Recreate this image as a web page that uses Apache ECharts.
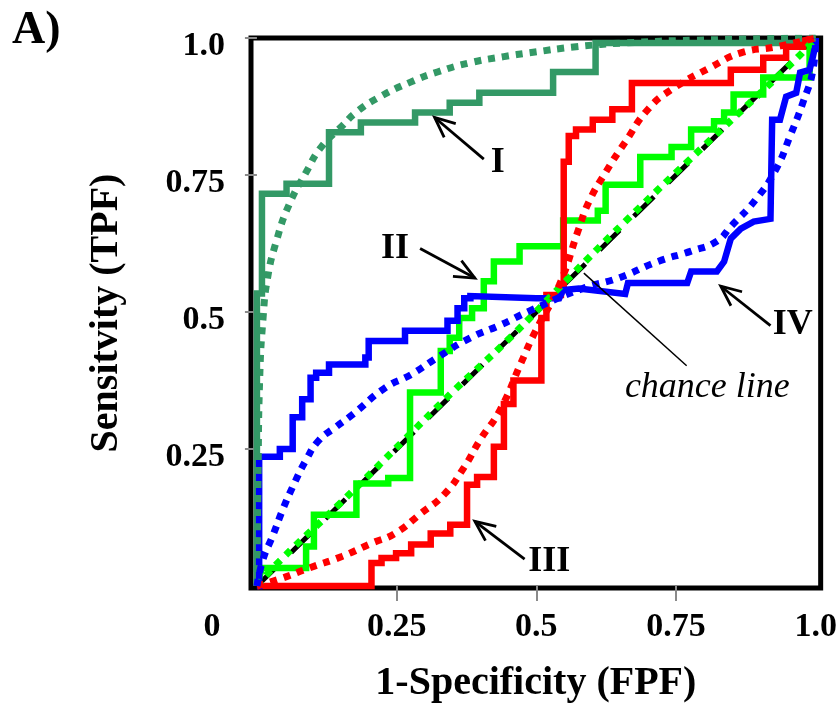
<!DOCTYPE html>
<html>
<head>
<meta charset="utf-8">
<script src="https://cdn.jsdelivr.net/npm/echarts@6/dist/echarts.min.js"></script>
<style>
  html, body { margin: 0; padding: 0; background: #fff; }
  #chart { width: 840px; height: 709px; }
</style>
</head>
<body>
<div id="chart"></div>
<script>
// Tick values and their printed labels
const xTickValues = [0, 0.25, 0.5, 0.75, 1.0];
const xTickLabels = ['0', '0.25', '0.5', '0.75', '1.0'];
const yTickValues = [0.25, 0.5, 0.75, 1.0];
const yTickLabels = ['0.25', '0.5', '0.75', '1.0'];

// Empirical ROC curves (staircase vertices): [FPF, TPF]
const empiricalI = [[0,0],[0,0.534],[0.009,0.534],[0.009,0.716],[0.053,0.716],[0.053,0.734],[0.129,0.734],[0.129,0.828],[0.186,0.828],[0.186,0.846],[0.283,0.846],[0.283,0.864],[0.345,0.864],[0.345,0.882],[0.398,0.882],[0.398,0.900],[0.530,0.900],[0.530,0.938],[0.606,0.938],[0.606,0.991],[1,0.991]];
const empiricalII = [[0,0],[0.009,0.033],[0.088,0.033],[0.088,0.072],[0.102,0.072],[0.102,0.130],[0.178,0.130],[0.178,0.187],[0.235,0.187],[0.235,0.197],[0.274,0.197],[0.274,0.353],[0.329,0.353],[0.329,0.429],[0.345,0.429],[0.345,0.453],[0.362,0.453],[0.362,0.489],[0.385,0.489],[0.385,0.507],[0.406,0.507],[0.406,0.556],[0.424,0.556],[0.424,0.592],[0.470,0.592],[0.470,0.620],[0.548,0.620],[0.548,0.667],[0.610,0.667],[0.610,0.685],[0.624,0.685],[0.624,0.732],[0.686,0.732],[0.686,0.783],[0.742,0.783],[0.742,0.801],[0.777,0.801],[0.777,0.833],[0.818,0.833],[0.818,0.848],[0.836,0.848],[0.836,0.864],[0.853,0.864],[0.853,0.897],[0.906,0.897],[0.906,0.928],[0.989,0.928],[0.989,0.984],[1,1]];
const empiricalIII = [[0,0],[0.205,0],[0.205,0.042],[0.223,0.042],[0.223,0.051],[0.249,0.051],[0.249,0.060],[0.276,0.060],[0.276,0.076],[0.311,0.076],[0.311,0.096],[0.346,0.096],[0.346,0.112],[0.376,0.112],[0.376,0.185],[0.394,0.185],[0.394,0.199],[0.424,0.199],[0.424,0.254],[0.442,0.254],[0.442,0.332],[0.459,0.332],[0.459,0.375],[0.509,0.375],[0.509,0.489],[0.518,0.489],[0.518,0.531],[0.544,0.531],[0.544,0.540],[0.549,0.540],[0.549,0.774],[0.558,0.774],[0.558,0.821],[0.571,0.821],[0.571,0.833],[0.601,0.833],[0.601,0.851],[0.636,0.851],[0.636,0.870],[0.671,0.870],[0.671,0.918],[0.848,0.918],[0.848,0.942],[0.906,0.942],[0.906,0.964],[0.947,0.964],[0.947,0.984],[0.977,0.984],[0.977,0.995],[1,1]];
const empiricalIV = [[0,0],[0.004,0],[0.004,0.236],[0.041,0.236],[0.041,0.250],[0.064,0.250],[0.064,0.308],[0.081,0.308],[0.081,0.341],[0.096,0.341],[0.096,0.380],[0.106,0.380],[0.106,0.389],[0.129,0.389],[0.129,0.404],[0.194,0.404],[0.194,0.417],[0.200,0.417],[0.200,0.447],[0.265,0.447],[0.265,0.466],[0.341,0.466],[0.341,0.484],[0.359,0.484],[0.359,0.507],[0.371,0.507],[0.371,0.525],[0.382,0.525],[0.382,0.529],[0.500,0.525],[0.541,0.525],[0.548,0.540],[0.576,0.543],[0.659,0.533],[0.664,0.553],[0.770,0.553],[0.777,0.574],[0.823,0.574],[0.836,0.592],[0.848,0.634],[0.866,0.652],[0.889,0.665],[0.919,0.670],[0.922,0.851],[0.936,0.851],[0.947,0.893],[0.965,0.900],[0.972,0.937],[0.989,0.942],[0.995,0.966],[1,0.99],[1,1]];

// Fitted (smooth) ROC curves: [FPF, TPF]
const fittedI = [[0,0],[0.002,0.199],[0.005,0.380],[0.011,0.489],[0.019,0.562],[0.035,0.630],[0.058,0.697],[0.088,0.755],[0.115,0.801],[0.152,0.839],[0.177,0.864],[0.217,0.891],[0.276,0.920],[0.323,0.938],[0.382,0.955],[0.442,0.966],[0.488,0.973],[0.571,0.984],[0.659,0.991],[0.783,0.996],[1,1]];
const fittedII = [[0,0],[0.044,0.049],[0.147,0.149],[0.265,0.268],[0.353,0.357],[0.452,0.452],[0.558,0.562],[0.659,0.665],[0.800,0.803],[0.965,0.962],[1,1]];
const fittedIII = [[0,0],[0.044,0.014],[0.094,0.033],[0.152,0.054],[0.205,0.078],[0.247,0.096],[0.293,0.132],[0.336,0.168],[0.371,0.217],[0.399,0.266],[0.435,0.321],[0.473,0.408],[0.495,0.458],[0.541,0.549],[0.576,0.652],[0.594,0.701],[0.624,0.755],[0.659,0.810],[0.700,0.870],[0.742,0.906],[0.813,0.947],[0.866,0.973],[0.929,0.984],[1,1]];
const fittedIV = [[0,0],[0.011,0.049],[0.028,0.091],[0.046,0.139],[0.064,0.181],[0.088,0.230],[0.111,0.266],[0.141,0.290],[0.170,0.312],[0.230,0.362],[0.276,0.386],[0.323,0.417],[0.382,0.453],[0.435,0.476],[0.488,0.502],[0.583,0.543],[0.647,0.562],[0.717,0.592],[0.777,0.611],[0.823,0.629],[0.848,0.656],[0.894,0.707],[0.929,0.761],[0.954,0.821],[0.977,0.882],[0.995,0.942],[1,1]];

const chanceLine = [[0,0],[1,1]];

// Curve labels with their pointer arrows, in data units
const curveNotes = [
  { text: 'I',   at: [0.431, 0.772], from: [0.406, 0.779], to: [0.318, 0.855] },
  { text: 'II',  at: [0.247, 0.616], from: [0.292, 0.616], to: [0.390, 0.562] },
  { text: 'III', at: [0.523, 0.045], from: [0.479, 0.049], to: [0.390, 0.118] },
  { text: 'IV',  at: [0.959, 0.476], from: [0.919, 0.475], to: [0.830, 0.547] }
];
const chanceNote = { text: 'chance line', at: [0.806, 0.363], from: [0.769, 0.402], to: [0.585, 0.571] };

const SERIF = '"Liberation Serif", "Times New Roman", Times, serif';
const COLORS = { I: '#339966', II: '#00ff00', III: '#ff0000', IV: '#0000ff' };
const tickFont = { fontFamily: SERIF, fontWeight: 'bold', fontSize: 34, color: '#000' };

function stepped(data, color) {
  return {
    type: 'line', data, symbol: 'none', silent: true,
    lineStyle: { color, width: 6.5, join: 'miter', cap: 'butt' }
  };
}
function fitted(data, color) {
  return {
    type: 'line', data, symbol: 'none', smooth: true, silent: true,
    lineStyle: { color, width: 7, type: [7, 7], cap: 'butt' }
  };
}

const chart = echarts.init(document.getElementById('chart'), null, { renderer: 'canvas' });

chart.setOption({
  animation: false,
  backgroundColor: '#fff',
  grid: {
    left: 251, top: 38, width: 577, height: 554,
    show: true, borderColor: '#000', borderWidth: 5, backgroundColor: 'transparent'
  },
  xAxis: {
    type: 'value', min: -0.0106, max: 1.0088,
    axisLine: { show: false },
    splitLine: { show: false },
    axisTick: {
      show: true, customValues: [0.25, 0.5, 0.75], length: 15,
      lineStyle: { color: '#8a8a8a', width: 2 }
    },
    axisLabel: Object.assign({
      customValues: xTickValues,
      formatter: v => {
        const s = xTickLabels[xTickValues.indexOf(v)];
        return v === 0 ? '{z|' + s + '}' : s;
      },
      rich: { z: Object.assign({ padding: [0, 90, 0, 0] }, tickFont) },
      margin: 22
    }, tickFont),
    name: '1-Specificity (FPF)', nameLocation: 'middle', nameGap: 76,
    nameTextStyle: { fontFamily: SERIF, fontWeight: 'bold', fontSize: 40, color: '#000' }
  },
  yAxis: {
    type: 'value', min: -0.0036, max: 1.0,
    axisLine: { show: false },
    splitLine: { show: false },
    axisTick: {
      show: true, customValues: yTickValues, length: 12,
      lineStyle: { color: '#8a8a8a', width: 2 }
    },
    axisLabel: Object.assign({
      customValues: yTickValues,
      formatter: v => '{t|' + yTickLabels[yTickValues.indexOf(v)] + '}',
      rich: { t: Object.assign({ padding: [16, 0, 0, 0] }, tickFont) },
      margin: 26
    }, tickFont),
    name: 'Sensitvity (TPF)', nameLocation: 'middle', nameGap: 124, nameRotate: 90,
    nameTextStyle: { fontFamily: SERIF, fontWeight: 'bold', fontSize: 40, color: '#000' }
  },
  series: [
    {
      type: 'line', data: chanceLine, symbol: 'none', silent: true,
      lineStyle: { color: '#000', width: 5, type: [28, 20], cap: 'butt' }
    },
    stepped(empiricalI, COLORS.I),
    stepped(empiricalII, COLORS.II),
    stepped(empiricalIII, COLORS.III),
    stepped(empiricalIV, COLORS.IV),
    fitted(fittedI, COLORS.I),
    fitted(fittedII, COLORS.II),
    fitted(fittedIII, COLORS.III),
    fitted(fittedIV, COLORS.IV)
  ]
});

// Pointer arrows and curve labels, placed through the grid's coordinate system
const px = p => chart.convertToPixel({ gridIndex: 0 }, p);

function arrow(from, to, withHead, width) {
  const a = px(from), b = px(to);
  const items = [{
    type: 'polyline', silent: true, z: 100,
    shape: { points: [a, b] },
    style: { stroke: '#000', lineWidth: width, fill: null }
  }];
  if (withHead) {
    const dx = a[0] - b[0], dy = a[1] - b[1];
    const len = Math.hypot(dx, dy), ux = dx / len, uy = dy / len;
    const L = 22, t = 24 * Math.PI / 180;
    const rot = s => [b[0] + L * (ux * Math.cos(s) - uy * Math.sin(s)), b[1] + L * (ux * Math.sin(s) + uy * Math.cos(s))];
    items.push({
      type: 'polyline', silent: true, z: 100,
      shape: { points: [rot(t), b, rot(-t)] },
      style: { stroke: '#000', lineWidth: width, fill: null, lineJoin: 'miter' }
    });
  }
  return items;
}

const graphics = [{
  type: 'text', left: 12, top: 8, silent: true,
  style: { text: 'A)', fontFamily: SERIF, fontWeight: 'bold', fontSize: 46, fill: '#000' }
}];

curveNotes.forEach(n => {
  graphics.push(...arrow(n.from, n.to, true, 2.8));
  const p = px(n.at);
  graphics.push({
    type: 'text', x: p[0], y: p[1], silent: true, z: 100,
    style: { text: n.text, align: 'center', verticalAlign: 'middle', fontFamily: SERIF, fontWeight: 'bold', fontSize: 36, fill: '#000' }
  });
});

graphics.push(...arrow(chanceNote.from, chanceNote.to, false, 1.5));
const cp = px(chanceNote.at);
graphics.push({
  type: 'text', x: cp[0], y: cp[1], silent: true, z: 100,
  style: { text: chanceNote.text, align: 'center', verticalAlign: 'middle', fontFamily: SERIF, fontStyle: 'italic', fontSize: 36, fill: '#000' }
});

chart.setOption({ graphic: graphics });
</script>
</body>
</html>
